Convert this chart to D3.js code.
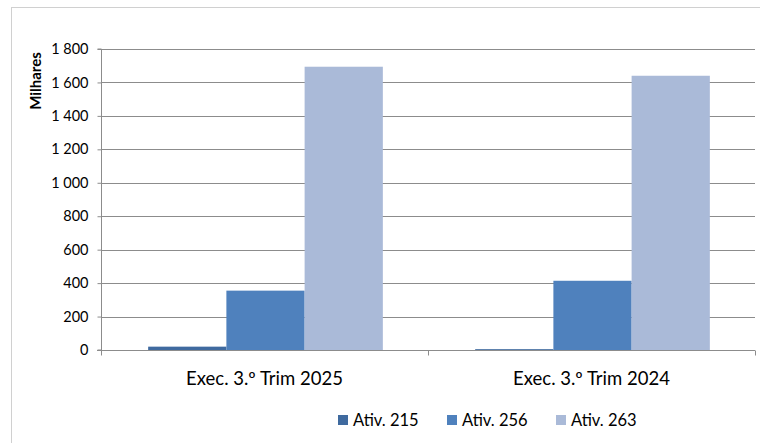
<!DOCTYPE html>
<html><head><meta charset="utf-8">
<script src="https://cdn.jsdelivr.net/npm/d3@7"></script>
<style>body{margin:0;background:#fff}svg{display:block}text{font-family:Lato,"Open Sans",sans-serif;fill:#000}</style>
</head><body><svg id="c" width="760" height="443"></svg>
<script>
const categories = ["Exec. 3.º Trim 2025", "Exec. 3.º Trim 2024"];
const seriesNames = ["Ativ. 215", "Ativ. 256", "Ativ. 263"];
const ativ215 = [20, 5];
const ativ256 = [355, 414];
const ativ263 = [1694, 1640];
const yTicks = [0, 200, 400, 600, 800, 1000, 1200, 1400, 1600, 1800];
const colors = ["#3F6A9F", "#4F81BD", "#AABAD8"];

const svg = d3.select("#c");
const L = 101, R = 755, T = 49, B = 350;
svg.append("line").attr("x1",11).attr("x2",760).attr("y1",7.5).attr("y2",7.5).attr("stroke","#d0d0d0");
svg.append("line").attr("x1",11.5).attr("x2",11.5).attr("y1",7).attr("y2",443).attr("stroke","#d0d0d0");

const y = d3.scaleLinear().domain([0,1800]).range([B,T]);
const x0 = d3.scaleBand().domain(categories).range([L,R]).paddingInner(0).paddingOuter(0);
const x1 = d3.scaleBand().domain(seriesNames).range([0,x0.bandwidth()]).paddingOuter(0.59).paddingInner(0);

svg.append("g").selectAll("line").data(yTicks.filter(d=>d>0)).join("line")
  .attr("x1",L).attr("x2",R).attr("y1",d=>Math.round(y(d))+0.5).attr("y2",d=>Math.round(y(d))+0.5)
  .attr("stroke","#8c8c8c").attr("stroke-width",1);

const data = [ativ215, ativ256, ativ263];
categories.forEach((c,ci)=>{
  svg.append("g").selectAll("rect").data(seriesNames).join("rect")
    .attr("x",(s)=>x0(c)+x1(s)+1)
    .attr("width",x1.bandwidth())
    .attr("y",(s,i)=>y(data[i][ci]))
    .attr("height",(s,i)=>B-y(data[i][ci]))
    .attr("fill",(s,i)=>colors[i]);
});

const yAxis = d3.axisLeft(y).tickValues(yTicks).tickSize(4).tickPadding(9)
  .tickFormat(d=>d3.format(",")(d).replace(/,/g,"\u00a0"));
const gy = svg.append("g").attr("transform",`translate(${L+0.5},0)`).call(yAxis);
gy.select(".domain").attr("stroke","#8c8c8c").attr("d",`M-4,${T}H0V${B}H-4`);
gy.selectAll(".tick line").attr("stroke","#8c8c8c");
gy.selectAll(".tick text").style("font-size","14.5px").style("font-family","Lato,sans-serif").attr("fill","#000");

const gx = svg.append("g").attr("transform",`translate(0,${B+0.5})`);
gx.append("line").attr("x1",L-4).attr("x2",R).attr("stroke","#8c8c8c");
gx.selectAll("line.t").data([L, x0(categories[1]), R]).join("line").attr("class","t")
  .attr("x1",d=>d+0.5).attr("x2",d=>d+0.5).attr("y1",0).attr("y2",5).attr("stroke","#8c8c8c");
gx.selectAll("text").data(categories).join("text")
  .attr("x",d=>x0(d)+x0.bandwidth()/2).attr("y",34).attr("text-anchor","middle")
  .style("font-size","18.5px").text(d=>d);

svg.append("text").attr("transform","translate(41,81) rotate(-90)").attr("text-anchor","middle")
  .style("font-size","15px").style("font-weight","bold").text("Milhares");

const legX = [338, 447, 556];
const lg = svg.append("g").selectAll("g").data(seriesNames).join("g")
  .attr("transform",(d,i)=>`translate(${legX[i]},415)`);
lg.append("rect").attr("width",10).attr("height",10).attr("fill",(d,i)=>colors[i]);
lg.append("text").attr("x",15).attr("y",11).style("font-size","16.5px").text(d=>d);
</script></body></html>
